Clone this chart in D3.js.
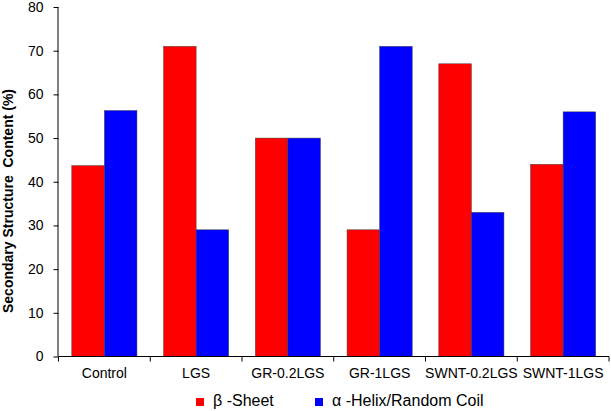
<!DOCTYPE html>
<html><head><meta charset="utf-8">
<script src="https://cdn.jsdelivr.net/npm/d3@7"></script>
<style>body{margin:0;background:#fff}text{font-family:Arial,"Liberation Sans",Helvetica,sans-serif}</style>
</head><body>
<svg id="c" width="611" height="411"></svg>
<script>
const categories = ["Control","LGS","GR-0.2LGS","GR-1LGS","SWNT-0.2LGS","SWNT-1LGS"];
const betaSheet = [43.7, 71, 50, 29, 67, 44];
const alphaHelix = [56.3, 29, 50, 71, 33, 56];
const seriesNames = ["\u03B2 -Sheet","\u03B1 -Helix/Random Coil"];
const seriesColors = ["#ff0000","#0000ff"];
const yTicks = [0,10,20,30,40,50,60,70,80];

const svg = d3.select("#c");
const L = 58.5, R = 609, T = 7, B = 356.5;
const x = d3.scaleBand().domain(categories).range([L,R]).paddingInner(0.29).paddingOuter(0.145);
const xs = d3.scaleBand().domain([0,1]).range([0,x.bandwidth()]);
const y = d3.scaleLinear().domain([0,80]).range([B,T]);

const data = categories.map((c,i)=>({c, v:[betaSheet[i], alphaHelix[i]]}));
const g = svg.append("g");
data.forEach(d=>{
  d.v.forEach((v,j)=>{
    g.append("rect")
      .attr("x", x(d.c)+xs(j)).attr("width", xs.bandwidth())
      .attr("y", y(v)).attr("height", y(0)-y(v))
      .attr("fill", seriesColors[j]).attr("stroke","#444").attr("stroke-width",0.5);
  });
});

// y axis
const ya = svg.append("g").attr("transform",`translate(${L},0)`)
  .call(d3.axisLeft(y).tickValues(yTicks).tickSize(5).tickPadding(10));
ya.selectAll("text").attr("font-size","14px").attr("fill","#000").style("font-family","Arial,'Liberation Sans',sans-serif");
ya.selectAll("line,path").attr("stroke","#000");
ya.select("path").attr("d",`M-0.5,${B}V${T}`);

// x axis with boundary ticks
const xa = svg.append("g").attr("transform",`translate(0,${B})`);
xa.append("line").attr("x1",L).attr("x2",R).attr("stroke","#000");
const bounds = categories.map(c=>x(c)-x.step()*0.145).concat([R]);
bounds.forEach(b=>xa.append("line").attr("x1",b).attr("x2",b).attr("y1",0).attr("y2",5).attr("stroke","#000"));
categories.forEach(c=>{
  xa.append("text").attr("x",x(c)+x.bandwidth()/2).attr("y",21.5)
    .attr("text-anchor","middle").attr("font-size","14px").text(c);
});

// y label
svg.append("text").attr("transform",`translate(12.5,201) rotate(-90)`)
  .attr("text-anchor","middle").attr("font-size","14px").attr("font-weight","bold")
  .style("white-space","pre").text("Secondary Structure  Content (%)");

// legend
const lg = svg.append("g");
const lx = [196, 315];
seriesNames.forEach((n,j)=>{
  lg.append("rect").attr("x",lx[j]).attr("y",398).attr("width",8).attr("height",8).attr("fill",seriesColors[j]);
  lg.append("text").attr("x",lx[j]+17).attr("y",406).attr("font-size","16px").style("white-space","pre").text(n);
});
</script>
</body></html>
